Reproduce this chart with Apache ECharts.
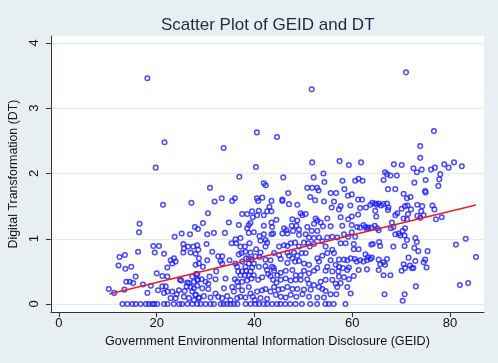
<!DOCTYPE html>
<html><head><meta charset="utf-8">
<script src="https://cdn.jsdelivr.net/npm/echarts@6/dist/echarts.min.js"></script>
<style>html,body{margin:0;padding:0;background:#e8eff2}#c{width:498px;height:363px}</style>
</head><body><div id="c"></div>
<script>
const titleText = 'Scatter Plot of GEID and DT';
const xAxisName = 'Government Environmental Information Disclosure (GEID)';
const yAxisName = 'Digital Transformation (DT)';
const xTicks = [0, 20, 40, 60, 80];
const yTicks = [0, 1, 2, 3, 4];

// observations with DT = 0 (GEID values)
const zeroRowGEID = [13.0,14.0,15.0,15.7,16.7,17.8,18.4,19.1,19.5,20.1,21.5,22.2,23.5,24.6,25.2,26.3,27.3,28.3,29.0,30.0,31.0,31.7,33.1,33.7,34.4,35.1,35.8,36.5,38.2,39.2,40.2,40.9,41.9,42.6,43.6,44.6,45.3,46.3,47.3,48.4,49.7,51.4,52.8,54.5,55.2,56.2,58.6];

// [GEID, DT]
const upperPoints = [[18.1,3.46],[21.6,2.48],[19.8,2.09],[51.7,3.29],[40.5,2.63],[44.6,2.56],[33.7,2.39],[40.3,2.10],[51.8,2.17],[57.4,2.19],[59.3,2.13],[71.0,3.55],[76.7,2.65],[73.9,2.42],[73.9,2.24],[61.8,2.17],[68.5,2.14],[70.1,2.13],[72.5,2.08],[74.2,2.06],[76.1,2.06],[76.9,2.09],[78.8,2.14],[79.7,2.09],[80.8,2.17],[82.4,2.11],
[36.9,1.95],[45.9,1.94],[30.9,1.78],[41.9,1.85],[42.3,1.82],[52.1,1.94],[54.1,2.00],[54.3,1.87],[58.0,1.89],[50.8,1.78],[51.8,1.78],[52.8,1.78],[53.1,1.74],[58.4,1.76],[59.1,1.66],[55.6,1.70],[56.7,1.70],[46.9,1.70],[45.7,1.60],[40.5,1.62],[41.6,1.63],[36.0,1.62],[33.3,1.62],[51.4,1.64],[52.4,1.59],
[73.2,2.02],[78.0,1.99],[66.7,2.02],[67.1,1.99],[67.8,1.97],[69.1,1.97],[60.6,1.89],[61.3,1.92],[62.1,1.89],[66.4,1.90],[67.3,1.76],[68.8,1.76],[75.0,1.90],[72.7,1.86],[77.8,1.91],[77.6,1.81],[74.9,1.73],[75.0,1.71],[59.9,1.68],[61.2,1.60],[62.0,1.60],[70.5,1.69],[71.2,1.62],[71.9,1.64]];

const leftPoints = [[21.3,1.52],[27.1,1.55],[16.5,1.23],[16.4,1.10],[27.8,1.18],[16.2,0.80],[12.4,0.72],[13.5,0.75],[12.2,0.59],[13.6,0.54],[14.8,0.57],[15.7,0.42],[13.8,0.34],[14.5,0.34],[15.2,0.32],[17.2,0.30],[18.8,0.28],[10.2,0.23],[11.3,0.17],[13.4,0.22],[18.1,0.17]];

const lowLeftPoints = [[23.68,1.03],[25.11,1.08],[26.81,1.07],[19.32,0.89],[20.48,0.89],[19.60,0.79],[21.50,0.77],[25.45,0.92],[25.58,0.85],[26.40,0.88],[27.49,0.88],[28.30,0.90],[25.45,0.79],[26.94,0.79],[27.96,0.77],[22.86,0.67],[23.54,0.70],[23.88,0.65],[23.20,0.62],[22.18,0.56],[28.64,0.70],[28.64,0.62],[20.00,0.47],[21.16,0.43],[22.18,0.42],[24.77,0.37],[25.04,0.36],[26.26,0.33],[27.62,0.34],[28.44,0.37],[27.28,0.42],[28.30,0.46],[20.28,0.21],[21.16,0.27],[21.84,0.27],[21.50,0.17],[22.18,0.19],[23.20,0.19],[24.09,0.15],[24.56,0.21],[25.72,0.20],[26.13,0.27],[26.60,0.32],[26.94,0.26],[27.62,0.24],[28.30,0.28],[27.28,0.19],[27.96,0.14],[22.86,0.09],[23.88,0.09],[25.58,0.11],[26.60,0.09],[27.62,0.06],[28.64,0.09]];

const midPoints = [[31.84,1.57],[35.44,1.58],[40.75,1.58],[43.47,1.58],[30.48,1.39],[37.48,1.38],[38.50,1.38],[39.52,1.42],[40.54,1.36],[39.66,1.33],[40.89,1.43],[41.91,1.36],[42.59,1.42],[43.47,1.42],[43.06,1.49],[29.46,1.24],[34.76,1.25],[36.80,1.21],[38.50,1.16],[38.84,1.21],[39.18,1.24],[41.91,1.20],[43.47,1.25],[43.61,1.18],[28.44,1.15],[30.34,1.07],[31.70,1.09],[33.95,1.09],[38.84,1.09],[39.86,1.10],[41.02,1.04],[41.91,1.07],[43.47,1.07],[36.12,0.99],[37.14,1.01],[35.31,0.93],[36.26,0.93],[37.14,0.88],[38.03,0.88],[38.98,0.93],[41.23,0.97],[42.25,0.98],[42.25,0.88],[42.59,0.94],[30.20,0.92],[31.36,0.80],[28.50,0.83],[32.59,0.73],[33.06,0.66],[33.40,0.73],[34.90,0.67],[36.80,0.76],[37.35,0.78],[38.16,0.80],[39.18,0.79],[40.34,0.84],[41.23,0.79],[38.30,0.70],[38.84,0.70],[39.39,0.68],[40.20,0.73],[41.02,0.72],[42.25,0.68],[43.27,0.67],[30.34,0.67],[29.46,0.57],[33.40,0.62],[36.12,0.62],[36.46,0.57],[37.48,0.65],[38.16,0.57],[38.84,0.62],[39.86,0.62],[39.52,0.56],[40.89,0.57],[42.25,0.58],[42.59,0.52],[43.61,0.57],[27.96,0.60],[28.10,0.46],[28.30,0.37],[29.18,0.38],[30.00,0.34],[30.82,0.42],[30.55,0.31],[32.04,0.38],[32.18,0.50],[34.08,0.39],[35.99,0.38],[36.67,0.50],[37.48,0.50],[38.30,0.51],[39.18,0.50],[37.14,0.44],[38.03,0.44],[38.84,0.44],[39.86,0.44],[37.48,0.34],[38.50,0.36],[36.46,0.34],[36.67,0.27],[39.39,0.39],[40.75,0.37],[41.57,0.41],[42.79,0.46],[43.27,0.43],[43.95,0.55],[29.32,0.24],[30.55,0.23],[32.04,0.16],[33.74,0.24],[35.44,0.26],[35.78,0.19],[37.48,0.21],[38.84,0.26],[39.18,0.16],[39.66,0.11],[40.54,0.19],[41.57,0.21],[42.25,0.23],[43.27,0.19],[41.23,0.09],[42.59,0.08],[27.96,0.14],[28.64,0.10],[29.66,0.12],[31.02,0.10],[32.59,0.11],[33.40,0.09],[34.42,0.12],[35.10,0.06],[36.46,0.09],[37.14,0.11],[38.16,0.10],[40.07,0.06]];

const midRightPoints = [[45.71,1.58],[47.07,1.53],[48.77,1.52],[54.21,1.57],[56.26,1.57],[57.62,1.50],[55.78,1.48],[57.28,1.45],[49.45,1.39],[49.79,1.36],[50.47,1.38],[44.49,1.29],[47.75,1.30],[48.77,1.28],[52.51,1.31],[52.85,1.28],[53.53,1.25],[52.17,1.23],[54.89,1.31],[55.57,1.19],[57.62,1.33],[57.96,1.20],[59.18,1.30],[46.05,1.16],[46.53,1.13],[47.62,1.20],[48.57,1.20],[47.89,1.12],[49.11,1.14],[50.81,1.18],[51.70,1.12],[52.85,1.12],[54.01,1.19],[45.71,1.08],[46.73,1.08],[49.11,1.06],[50.47,1.07],[51.15,1.02],[52.17,1.01],[53.19,1.02],[53.87,0.96],[54.89,1.02],[55.91,1.03],[56.94,1.02],[58.30,1.07],[59.18,1.03],[43.81,1.08],[45.03,0.88],[46.05,0.90],[46.73,0.89],[47.41,0.93],[48.30,0.94],[49.11,0.88],[50.13,0.94],[51.02,0.93],[51.29,0.88],[52.17,0.92],[54.55,0.88],[55.91,0.83],[56.26,0.78],[57.62,0.93],[58.64,0.93],[44.01,0.78],[45.03,0.75],[45.37,0.69],[46.73,0.79],[47.07,0.74],[47.75,0.70],[48.09,0.79],[48.77,0.74],[49.66,0.78],[50.47,0.78],[48.30,0.65],[49.11,0.66],[46.73,0.63],[50.13,0.62],[51.15,0.60],[52.85,0.70],[53.19,0.65],[53.87,0.74],[54.89,0.78],[55.57,0.67],[57.28,0.68],[58.30,0.68],[58.98,0.67],[59.66,0.70],[54.89,0.57],[56.60,0.60],[57.28,0.57],[58.09,0.55],[59.32,0.56],[44.01,0.51],[44.69,0.44],[45.37,0.48],[46.39,0.51],[47.75,0.52],[48.43,0.44],[49.45,0.44],[50.13,0.51],[51.15,0.47],[52.17,0.51],[52.85,0.55],[54.55,0.51],[55.91,0.50],[57.14,0.50],[58.98,0.52],[57.28,0.42],[58.30,0.41],[43.81,0.37],[44.49,0.33],[45.37,0.37],[46.39,0.39],[47.41,0.36],[48.43,0.37],[49.45,0.37],[50.81,0.38],[51.15,0.31],[52.17,0.29],[53.53,0.34],[54.55,0.37],[55.91,0.37],[56.60,0.31],[57.62,0.32],[59.32,0.38],[44.01,0.26],[44.89,0.22],[45.71,0.23],[46.73,0.26],[47.75,0.23],[48.77,0.23],[50.13,0.22],[51.49,0.22],[53.19,0.26],[53.87,0.23],[54.55,0.20],[56.94,0.26],[58.98,0.26],[44.35,0.14],[45.37,0.11],[46.39,0.10],[47.41,0.14],[48.57,0.11],[49.79,0.15],[51.15,0.11],[52.85,0.10],[54.21,0.10],[55.57,0.15],[56.73,0.15],[59.66,0.16]];

const rightPoints = [[59.6,1.51],[61.6,1.47],[62.8,1.48],[63.7,1.52],[64.1,1.55],[64.7,1.54],[65.0,1.52],[65.4,1.54],[65.9,1.51],[66.4,1.53],[67.1,1.54],[67.4,1.48],[67.3,1.44],[59.9,1.34],[61.2,1.37],[64.7,1.43],[64.9,1.34],[68.8,1.36],[69.2,1.39],[70.1,1.46],[70.8,1.50],[71.3,1.51],[72.0,1.45],[71.4,1.38],[70.5,1.31],[71.2,1.30],[73.3,1.52],[74.3,1.50],[74.1,1.42],[73.3,1.35],[74.6,1.36],[73.9,1.32],[76.4,1.51],[76.8,1.45],[77.1,1.30],[78.3,1.33],[59.9,1.21],[61.0,1.18],[61.6,1.17],[62.3,1.21],[62.7,1.18],[63.3,1.17],[63.0,1.15],[63.9,1.17],[64.6,1.20],[65.1,1.16],[65.4,1.13],[59.9,1.10],[60.6,1.03],[68.1,1.25],[68.4,1.18],[67.9,1.16],[68.8,1.07],[69.5,1.08],[69.8,1.05],[70.3,1.12],[70.7,1.05],[70.8,1.16],[71.2,0.98],[70.7,0.89],[72.9,1.01],[73.2,0.95],[72.7,0.86],[73.5,0.81],[75.4,0.81],[81.2,0.91],[83.2,1.00],[85.3,0.72],[60.3,0.92],[60.3,0.84],[61.3,0.84],[63.9,0.91],[64.2,0.92],[65.5,0.95],[65.7,0.89],[68.4,0.88],[62.7,0.76],[63.2,0.72],[64.0,0.71],[60.5,0.69],[60.9,0.65],[61.6,0.67],[62.3,0.65],[63.0,0.67],[63.7,0.69],[65.4,0.68],[65.7,0.61],[66.4,0.64],[67.1,0.69],[66.7,0.60],[70.5,0.61],[71.5,0.71],[71.8,0.59],[72.5,0.55],[72.9,0.66],[74.6,0.64],[74.9,0.68],[75.2,0.56],[61.3,0.52],[63.0,0.53],[65.4,0.52],[66.4,0.44],[67.8,0.44],[70.1,0.51],[70.8,0.55],[72.2,0.55],[60.3,0.43],[73.0,0.27],[66.6,0.15],[70.7,0.15],[70.3,0.05],[82.0,0.29],[83.7,0.32]];

// fitted line endpoints [GEID, DT]
const fitLine = [[10.3, 0.153], [85.3, 1.517]];

const X_MIN = -8 / 4.9, X_MAX = X_MIN + 434 / 4.9;
const Y_MIN = -8 / 65.25, Y_MAX = Y_MIN + 276 / 65.25;

const allPoints = [].concat(zeroRowGEID.map(x => [x, 0]), upperPoints, leftPoints, lowLeftPoints, midPoints, midRightPoints, rightPoints);

const FONT = 'Liberation Sans, Arial, sans-serif';
const chart = echarts.init(document.getElementById('c'));
chart.setOption({
  backgroundColor: '#e8eff2',
  animation: false,
  title: { text: titleText, left: 156, top: 12, textStyle: { fontFamily: FONT, fontSize: 17, fontWeight: 'normal', color: '#1c2a44' } },
  grid: { left: 50, top: 36, width: 434, height: 276, show: true, backgroundColor: '#ffffff', borderWidth: 0 },
  xAxis: {
    type: 'value', min: X_MIN, max: X_MAX,
    name: xAxisName, nameLocation: 'middle', nameGap: 22,
    nameTextStyle: { fontFamily: FONT, fontSize: 12.6, color: '#111' },
    axisLine: { show: true, onZero: false, lineStyle: { color: '#333', width: 1 } },
    axisTick: { show: true, customValues: xTicks, length: 5, lineStyle: { color: '#333' } },
    axisLabel: { customValues: xTicks, margin: 5, fontFamily: FONT, fontSize: 13, color: '#111' },
    splitLine: { show: false }
  },
  yAxis: {
    type: 'value', min: Y_MIN, max: Y_MAX,
    name: yAxisName, nameLocation: 'middle', nameGap: 24,
    nameTextStyle: { fontFamily: FONT, fontSize: 12.4, color: '#111' },
    axisLine: { show: true, onZero: false, lineStyle: { color: '#333', width: 1 } },
    axisTick: { show: true, customValues: yTicks, length: 5, lineStyle: { color: '#333' } },
    axisLabel: { customValues: yTicks, rotate: 90, margin: 10, fontFamily: FONT, fontSize: 13, color: '#111' },
    splitLine: { show: true, lineStyle: { color: '#e3edf0', width: 1, type: 'solid' } }
  },
  series: [
    { type: 'scatter', data: allPoints, z: 2, symbol: 'circle', symbolSize: 4.6,
      itemStyle: { color: 'rgba(0,0,0,0)', borderColor: '#1e1eff', borderWidth: 1.5 } },
    { type: 'line', data: fitLine, z: 3, symbol: 'none', silent: true,
      lineStyle: { color: '#f01c1c', width: 1.5 } }
  ]
});
</script></body></html>
